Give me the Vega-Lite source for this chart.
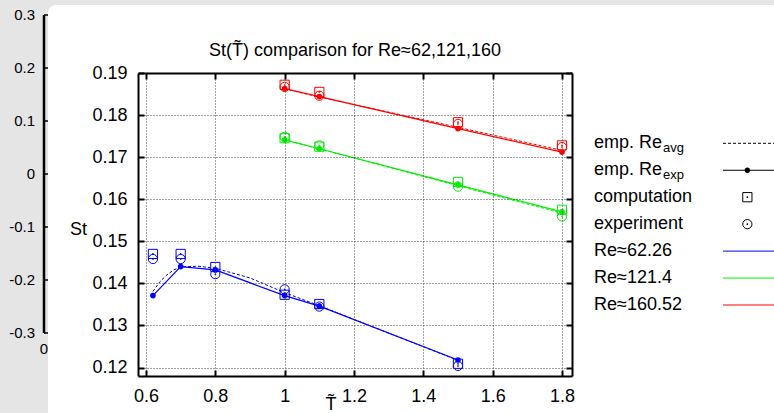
{
  "$schema": "https://vega.github.io/schema/vega-lite/v6.json",
  "width": 434,
  "height": 303,
  "autosize": {"type": "none"},
  "padding": {"left": 138, "top": 73, "right": 202, "bottom": 37},
  "background": "#e5e5e5",
  "config": {"font": "Liberation Sans", "view": {"stroke": null}},
  "title": {"text": "St(T̃) comparison for Re≈62,121,160", "fontSize": 18, "fontWeight": "normal", "color": "#000000", "anchor": "middle", "frame": "group", "baseline": "alphabetic", "offset": 0, "dy": 69},
  "datasets": {
    "pts": [
      {"Re": "160.52", "kind": "comp", "T": 1.0, "St": 0.1872},
      {"Re": "160.52", "kind": "comp", "T": 1.1, "St": 0.1855},
      {"Re": "160.52", "kind": "comp", "T": 1.5, "St": 0.1783},
      {"Re": "160.52", "kind": "comp", "T": 1.8, "St": 0.1728},
      {"Re": "160.52", "kind": "expt", "T": 1.0, "St": 0.1867},
      {"Re": "160.52", "kind": "expt", "T": 1.1, "St": 0.1846},
      {"Re": "160.52", "kind": "expt", "T": 1.5, "St": 0.1779},
      {"Re": "160.52", "kind": "expt", "T": 1.8, "St": 0.1724},
      {"Re": "160.52", "kind": "emp", "T": 1.0, "St": 0.1863},
      {"Re": "160.52", "kind": "emp", "T": 1.1, "St": 0.1844},
      {"Re": "160.52", "kind": "emp", "T": 1.5, "St": 0.1768},
      {"Re": "160.52", "kind": "emp", "T": 1.8, "St": 0.1712},
      {"Re": "121.4", "kind": "comp", "T": 1.0, "St": 0.1745},
      {"Re": "121.4", "kind": "comp", "T": 1.1, "St": 0.1725},
      {"Re": "121.4", "kind": "comp", "T": 1.5, "St": 0.1641},
      {"Re": "121.4", "kind": "comp", "T": 1.8, "St": 0.1575},
      {"Re": "121.4", "kind": "expt", "T": 1.0, "St": 0.1748},
      {"Re": "121.4", "kind": "expt", "T": 1.1, "St": 0.1728},
      {"Re": "121.4", "kind": "expt", "T": 1.5, "St": 0.1630},
      {"Re": "121.4", "kind": "expt", "T": 1.8, "St": 0.1559},
      {"Re": "121.4", "kind": "emp", "T": 1.0, "St": 0.1741},
      {"Re": "121.4", "kind": "emp", "T": 1.1, "St": 0.1720},
      {"Re": "121.4", "kind": "emp", "T": 1.5, "St": 0.1634},
      {"Re": "121.4", "kind": "emp", "T": 1.8, "St": 0.1570},
      {"Re": "62.26", "kind": "comp", "T": 0.62, "St": 0.1470},
      {"Re": "62.26", "kind": "comp", "T": 0.7, "St": 0.1470},
      {"Re": "62.26", "kind": "comp", "T": 0.8, "St": 0.1439},
      {"Re": "62.26", "kind": "comp", "T": 1.0, "St": 0.1373},
      {"Re": "62.26", "kind": "comp", "T": 1.1, "St": 0.1351},
      {"Re": "62.26", "kind": "comp", "T": 1.5, "St": 0.1209},
      {"Re": "62.26", "kind": "expt", "T": 0.62, "St": 0.1458},
      {"Re": "62.26", "kind": "expt", "T": 0.7, "St": 0.1458},
      {"Re": "62.26", "kind": "expt", "T": 0.8, "St": 0.1422},
      {"Re": "62.26", "kind": "expt", "T": 1.0, "St": 0.1386},
      {"Re": "62.26", "kind": "expt", "T": 1.1, "St": 0.1345},
      {"Re": "62.26", "kind": "expt", "T": 1.5, "St": 0.1204},
      {"Re": "62.26", "kind": "emp", "T": 0.62, "St": 0.1371},
      {"Re": "62.26", "kind": "emp", "T": 0.7, "St": 0.1440},
      {"Re": "62.26", "kind": "emp", "T": 0.8, "St": 0.1432},
      {"Re": "62.26", "kind": "emp", "T": 1.0, "St": 0.1371},
      {"Re": "62.26", "kind": "emp", "T": 1.1, "St": 0.1346},
      {"Re": "62.26", "kind": "emp", "T": 1.5, "St": 0.1218}
    ],
    "avg": [
      {"Re": "160.52", "T": 1.0, "St": 0.1862},
      {"Re": "160.52", "T": 1.1, "St": 0.1843},
      {"Re": "160.52", "T": 1.5, "St": 0.1771},
      {"Re": "160.52", "T": 1.8, "St": 0.1716},
      {"Re": "121.4", "T": 1.0, "St": 0.1741},
      {"Re": "121.4", "T": 1.1, "St": 0.1720},
      {"Re": "121.4", "T": 1.5, "St": 0.1632},
      {"Re": "121.4", "T": 1.8, "St": 0.1567},
      {"Re": "62.26", "T": 0.62, "St": 0.1381},
      {"Re": "62.26", "T": 0.64, "St": 0.1404},
      {"Re": "62.26", "T": 0.66, "St": 0.1420},
      {"Re": "62.26", "T": 0.68, "St": 0.1432},
      {"Re": "62.26", "T": 0.7, "St": 0.1439},
      {"Re": "62.26", "T": 0.75, "St": 0.1441},
      {"Re": "62.26", "T": 0.8, "St": 0.1436},
      {"Re": "62.26", "T": 0.9, "St": 0.1413},
      {"Re": "62.26", "T": 1.0, "St": 0.1378},
      {"Re": "62.26", "T": 1.1, "St": 0.1347},
      {"Re": "62.26", "T": 1.5, "St": 0.1217}
    ],
    "bgTicks": [
      {"v": 0.3, "label": "0.3"},
      {"v": 0.2, "label": "0.2"},
      {"v": 0.1, "label": "0.1"},
      {"v": 0, "label": "0"},
      {"v": -0.1, "label": "-0.1"},
      {"v": -0.2, "label": "-0.2"},
      {"v": -0.3, "label": "-0.3"}
    ],
    "bgAxis": [
      {"lo": -0.3, "hi": 0.3}
    ],
    "legend": [
      {"row": 1, "label": "emp. Re", "sub": "avg"},
      {"row": 2, "label": "emp. Re", "sub": "exp"},
      {"row": 3, "label": "computation"},
      {"row": 4, "label": "experiment"},
      {"row": 5, "label": "Re≈62.26"},
      {"row": 6, "label": "Re≈121.4"},
      {"row": 7, "label": "Re≈160.52"}
    ],
    "legendLines": [
      {"row": 1, "key": "avg"},
      {"row": 2, "key": "exp"},
      {"row": 5, "key": "62.26"},
      {"row": 6, "key": "121.4"},
      {"row": 7, "key": "160.52"}
    ],
    "legendSym": [
      {"row": 2, "sym": "dot"},
      {"row": 3, "sym": "square"},
      {"row": 4, "sym": "circle"}
    ]
  },
  "layer": [
    {
      "layer": [
        {
          "data": {"name": "bgTicks"},
          "mark": {"type": "rule", "color": "#000000", "strokeWidth": 1.5},
          "encoding": {
            "x": {"datum": 0, "type": "quantitative", "scale": {"domain": [0, 1], "range": [-94, 6]}, "axis": null},
            "x2": {"datum": 0.06},
            "y": {"field": "v", "type": "quantitative", "scale": {"domain": [-0.3, 0.3], "range": [260, -58]}, "axis": null}
          }
        },
        {
          "data": {"values": [{"panel": 1}]},
          "mark": {"type": "rect", "color": "#ffffff", "cornerRadius": 8},
          "encoding": {
            "x": {"datum": 0.04, "type": "quantitative", "scale": {"domain": [0, 1], "range": [-94, 6]}, "axis": null},
            "x2": {"datum": 8},
            "y": {"datum": 0.3189, "type": "quantitative", "scale": {"domain": [-0.3, 0.3], "range": [260, -58]}, "axis": null},
            "y2": {"datum": -0.5}
          }
        },
        {
          "data": {"name": "bgTicks"},
          "mark": {"type": "text", "align": "right", "baseline": "middle", "fontSize": 15, "color": "#000000", "dx": -9},
          "encoding": {
            "x": {"datum": 0, "type": "quantitative", "scale": {"domain": [0, 1], "range": [-94, 6]}, "axis": null},
            "y": {"field": "v", "type": "quantitative", "scale": {"domain": [-0.3, 0.3], "range": [260, -58]}, "axis": null},
            "text": {"field": "label"}
          }
        },
        {
          "data": {"values": [{"label": "0"}]},
          "mark": {"type": "text", "align": "center", "baseline": "top", "fontSize": 15, "color": "#000000", "dy": 9},
          "encoding": {
            "x": {"datum": 0, "type": "quantitative", "scale": {"domain": [0, 1], "range": [-94, 6]}, "axis": null},
            "y": {"datum": -0.3, "type": "quantitative", "scale": {"domain": [-0.3, 0.3], "range": [260, -58]}, "axis": null},
            "text": {"field": "label"}
          }
        }
      ]
    },
    {
      "layer": [
        {
          "data": {"name": "avg"},
          "mark": {"type": "line", "strokeDash": [3, 2], "strokeWidth": 1},
          "encoding": {
            "x": {"field": "T", "type": "quantitative", "scale": {"domain": [0.5769, 1.8289], "nice": false, "zero": false},
              "axis": {"orient": "bottom", "values": [0.6, 0.8, 1, 1.2, 1.4, 1.6, 1.8], "format": "~g", "grid": true, "gridDash": [1, 2], "gridColor": "#444444", "gridWidth": 1, "domainColor": "#000000", "domainWidth": 2, "tickColor": "#000000", "tickWidth": 2, "tickSize": -6, "labelPadding": 17, "labelFontSize": 18, "labelColor": "#000000", "labelFlush": false, "labelOverlap": false, "title": "T̃", "titleFontSize": 18, "titleFontWeight": "normal", "titleColor": "#000000", "titleX": 192.5, "titleY": 33, "titleBaseline": "alphabetic", "titleAlign": "center", "zindex": 1}},
            "y": {"field": "St", "type": "quantitative", "scale": {"domain": [0.118, 0.19], "nice": false, "zero": false},
              "axis": {"orient": "left", "values": [0.12, 0.13, 0.14, 0.15, 0.16, 0.17, 0.18, 0.19], "format": ".2f", "grid": true, "gridDash": [1, 2], "gridColor": "#444444", "gridWidth": 1, "domainColor": "#000000", "domainWidth": 2, "tickColor": "#000000", "tickWidth": 2, "tickSize": -6, "labelPadding": 17, "labelFontSize": 18, "labelColor": "#000000", "labelFlush": false, "labelOverlap": false, "title": "St", "titleFontSize": 18, "titleFontWeight": "normal", "titleColor": "#000000", "titleAngle": 0, "titleX": -60, "titleY": 156, "titleAlign": "center", "titleBaseline": "middle", "zindex": 1}},
            "color": {"field": "Re", "type": "nominal", "scale": {"domain": ["62.26", "121.4", "160.52"], "range": ["#0000ff", "#00ee00", "#ff0000"]}, "legend": null}
          }
        },
        {
          "data": {"name": "pts"},
          "transform": [{"filter": "datum.kind === 'emp'"}],
          "mark": {"type": "line", "strokeWidth": 1.2},
          "encoding": {
            "x": {"field": "T", "type": "quantitative", "scale": {"domain": [0.5769, 1.8289], "nice": false, "zero": false}, "axis": null},
            "y": {"field": "St", "type": "quantitative", "scale": {"domain": [0.118, 0.19], "nice": false, "zero": false}, "axis": null},
            "color": {"field": "Re", "type": "nominal", "legend": null}
          }
        },
        {
          "data": {"name": "pts"},
          "transform": [{"filter": "datum.kind === 'emp'"}],
          "mark": {"type": "point", "shape": "circle", "filled": true, "size": 32, "opacity": 1},
          "encoding": {
            "x": {"field": "T", "type": "quantitative", "scale": {"domain": [0.5769, 1.8289], "nice": false, "zero": false}, "axis": null},
            "y": {"field": "St", "type": "quantitative", "scale": {"domain": [0.118, 0.19], "nice": false, "zero": false}, "axis": null},
            "color": {"field": "Re", "type": "nominal", "legend": null}
          }
        },
        {
          "data": {"name": "pts"},
          "transform": [{"filter": "datum.kind === 'comp'"}],
          "mark": {"type": "point", "shape": "square", "filled": false, "size": 85, "strokeWidth": 1, "opacity": 1},
          "encoding": {
            "x": {"field": "T", "type": "quantitative", "scale": {"domain": [0.5769, 1.8289], "nice": false, "zero": false},
              "axis": {"orient": "top", "values": [0.6, 0.8, 1, 1.2, 1.4, 1.6, 1.8], "labels": false, "grid": false, "domainColor": "#000000", "domainWidth": 2, "tickColor": "#000000", "tickWidth": 2, "tickSize": -6, "title": null, "zindex": 1}},
            "y": {"field": "St", "type": "quantitative", "scale": {"domain": [0.118, 0.19], "nice": false, "zero": false},
              "axis": {"orient": "right", "values": [0.12, 0.13, 0.14, 0.15, 0.16, 0.17, 0.18, 0.19], "labels": false, "grid": false, "domainColor": "#000000", "domainWidth": 2, "tickColor": "#000000", "tickWidth": 2, "tickSize": -6, "title": null, "zindex": 1}},
            "color": {"field": "Re", "type": "nominal", "legend": null}
          }
        },
        {
          "data": {"name": "pts"},
          "transform": [{"filter": "datum.kind === 'expt'"}],
          "mark": {"type": "point", "shape": "circle", "filled": false, "size": 85, "strokeWidth": 1, "opacity": 1},
          "encoding": {
            "x": {"field": "T", "type": "quantitative", "scale": {"domain": [0.5769, 1.8289], "nice": false, "zero": false}, "axis": null},
            "y": {"field": "St", "type": "quantitative", "scale": {"domain": [0.118, 0.19], "nice": false, "zero": false}, "axis": null},
            "color": {"field": "Re", "type": "nominal", "legend": null}
          }
        },
        {
          "data": {"name": "pts"},
          "transform": [{"filter": "datum.kind !== 'emp'"}],
          "mark": {"type": "point", "shape": "circle", "filled": true, "size": 3, "opacity": 1},
          "encoding": {
            "x": {"field": "T", "type": "quantitative", "scale": {"domain": [0.5769, 1.8289], "nice": false, "zero": false}, "axis": null},
            "y": {"field": "St", "type": "quantitative", "scale": {"domain": [0.118, 0.19], "nice": false, "zero": false}, "axis": null},
            "color": {"field": "Re", "type": "nominal", "legend": null}
          }
        }
      ],
      "resolve": {"axis": {"x": "independent", "y": "independent"}}
    },
    {
      "layer": [
        {
          "data": {"name": "legend"},
          "mark": {"type": "text", "align": "left", "baseline": "middle", "fontSize": 18, "color": "#000000"},
          "encoding": {
            "x": {"datum": 0, "type": "quantitative", "scale": {"domain": [0, 1], "range": [456, 636]}, "axis": null},
            "y": {"field": "row", "type": "quantitative", "scale": {"domain": [1, 7], "range": [70.3, 232]}, "axis": null},
            "text": {"field": "label"}
          }
        },
        {
          "data": {"name": "legend"},
          "transform": [{"filter": "datum.sub"}],
          "mark": {"type": "text", "align": "left", "baseline": "alphabetic", "fontSize": 13, "color": "#000000", "dx": 69, "dy": 9},
          "encoding": {
            "x": {"datum": 0, "type": "quantitative", "scale": {"domain": [0, 1], "range": [456, 636]}, "axis": null},
            "y": {"field": "row", "type": "quantitative", "scale": {"domain": [1, 7], "range": [70.3, 232]}, "axis": null},
            "text": {"field": "sub"}
          }
        },
        {
          "data": {"name": "legendLines"},
          "mark": {"type": "rule", "strokeWidth": 1},
          "encoding": {
            "x": {"datum": 0.7167, "type": "quantitative", "scale": {"domain": [0, 1], "range": [456, 636]}, "axis": null},
            "x2": {"datum": 1.1},
            "y": {"field": "row", "type": "quantitative", "scale": {"domain": [1, 7], "range": [70.3, 232]}, "axis": null},
            "color": {"field": "key", "type": "nominal", "scale": {"domain": ["avg", "exp", "62.26", "121.4", "160.52"], "range": ["#000000", "#000000", "#0000ff", "#00ee00", "#ff0000"]}, "legend": null},
            "strokeDash": {"field": "key", "type": "nominal", "scale": {"domain": ["avg", "exp", "62.26", "121.4", "160.52"], "range": [[3, 2], [1, 0], [1, 0], [1, 0], [1, 0]]}, "legend": null}
          }
        },
        {
          "data": {"name": "legendSym"},
          "transform": [{"filter": "datum.sym === 'dot'"}],
          "mark": {"type": "point", "shape": "circle", "filled": true, "size": 28, "color": "#000000", "opacity": 1},
          "encoding": {
            "x": {"datum": 0.852, "type": "quantitative", "scale": {"domain": [0, 1], "range": [456, 636]}, "axis": null},
            "y": {"field": "row", "type": "quantitative", "scale": {"domain": [1, 7], "range": [70.3, 232]}, "axis": null}
          }
        },
        {
          "data": {"name": "legendSym"},
          "transform": [{"filter": "datum.sym !== 'dot'"}],
          "mark": {"type": "point", "filled": false, "size": 85, "strokeWidth": 1, "color": "#000000", "opacity": 1},
          "encoding": {
            "x": {"datum": 0.852, "type": "quantitative", "scale": {"domain": [0, 1], "range": [456, 636]}, "axis": null},
            "y": {"field": "row", "type": "quantitative", "scale": {"domain": [1, 7], "range": [70.3, 232]}, "axis": null},
            "shape": {"field": "sym", "type": "nominal", "scale": {"domain": ["square", "circle"], "range": ["square", "circle"]}, "legend": null}
          }
        },
        {
          "data": {"name": "legendSym"},
          "transform": [{"filter": "datum.sym !== 'dot'"}],
          "mark": {"type": "point", "shape": "circle", "filled": true, "size": 3, "color": "#000000", "opacity": 1},
          "encoding": {
            "x": {"datum": 0.852, "type": "quantitative", "scale": {"domain": [0, 1], "range": [456, 636]}, "axis": null},
            "y": {"field": "row", "type": "quantitative", "scale": {"domain": [1, 7], "range": [70.3, 232]}, "axis": null}
          }
        }
      ]
    },
    {
      "data": {"name": "bgAxis"},
      "mark": {"type": "rule", "color": "#000000", "strokeWidth": 2.5, "opacity": 1},
      "encoding": {
        "x": {"datum": 0, "type": "quantitative", "scale": {"domain": [0, 1], "range": [-94, 6]}, "axis": null},
        "y": {"field": "lo", "type": "quantitative", "scale": {"domain": [-0.3, 0.3], "range": [260, -58]}, "axis": null},
        "y2": {"field": "hi"}
      }
    }
  ],
  "resolve": {
    "scale": {"x": "independent", "y": "independent", "color": "independent", "strokeDash": "independent", "shape": "independent"},
    "axis": {"x": "independent", "y": "independent"}
  }
}
